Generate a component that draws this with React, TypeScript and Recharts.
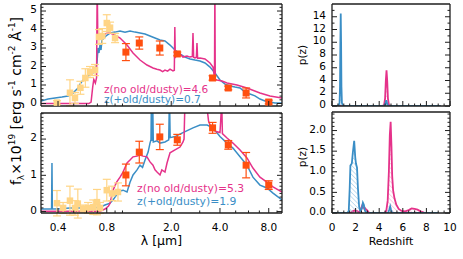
import React from 'react';
import { ComposedChart, Line, Area, Scatter, XAxis, YAxis, ErrorBar, Label } from 'recharts';

const W = 463;
const H = 259;
const FONT = '"DejaVu Sans", Verdana, sans-serif';
const BLUE = '#3a8ec6';
const PINK = '#e5328a';
const ORANGE = '#ff4f0f';
const LIGHT = '#ffd586';
const FRAME = '#1e1e1e';
const TICK_FS = 10.5;

// ---------- SED axis ----------
const lamDomain: [number, number] = [0.314, 9.66];
const lamTicks = [0.4, 0.5, 0.6, 0.7, 0.8, 0.9, 1, 2, 3, 4, 5, 6, 7, 8, 9];
const lamMajor = [0.4, 0.8, 2.0, 4.0, 8.0];

// ---------- SED top (no old/dusty z=4.6 ; +old/dusty z=0.7) ----------
const sedTopBlue: [number, number][] = [
  [0.314, 0.14], [0.347, 0.24], [0.383, 0.3], [0.423, 0.35], [0.461, 0.41], [0.488, 0.51], [0.509, 0.68],
  [0.532, 0.84], [0.547, 1.05], [0.571, 1.27], [0.596, 1.43], [0.622, 1.54], [0.649, 1.59], [0.677, 1.81],
  [0.696, 2.19], [0.706, 3.0], [0.716, 2.73], [0.726, 3.16], [0.737, 2.89], [0.747, 3.43], [0.769, 3.54],
  [0.791, 3.65], [0.838, 3.81], [0.899, 3.86], [0.966, 3.92], [1.037, 3.86], [1.113, 3.92], [1.195, 3.86],
  [1.283, 3.81], [1.378, 3.76], [1.479, 3.65], [1.588, 3.54], [1.705, 3.43], [1.83, 3.38], [1.966, 3.16],
  [2.11, 2.89], [2.266, 2.68], [2.432, 2.51], [2.612, 2.41], [2.804, 2.35], [3.01, 2.3], [3.232, 2.19],
  [3.471, 1.97], [3.726, 1.65], [4.0, 1.27], [4.297, 1.05], [4.613, 0.95], [4.952, 0.89], [5.316, 0.84],
  [5.707, 0.62], [6.127, 0.51], [6.577, 0.41], [7.063, 0.24], [7.585, 0.14], [8.14, 0.08], [8.74, 0.03], [9.66, 0.03],
];
const sedTopPink: [number, number][] = [
  [0.314, 0.0], [0.62, 0.0], [0.64, 0.08], [0.655, 0.9], [0.665, 1.3], [0.68, 1.1], [0.692, 1.4], [0.698, 6.5],
  [0.704, 3.6], [0.72, 3.75], [0.75, 3.7], [0.8, 3.8], [0.838, 3.81], [0.9, 3.7], [0.966, 3.54], [1.067, 3.16],
  [1.162, 2.73], [1.283, 2.35], [1.417, 2.08], [1.543, 1.92], [1.63, 1.85], [1.705, 1.81], [1.77, 1.72],
  [1.83, 1.81], [1.9, 1.75], [1.966, 1.86], [2.05, 1.76], [2.09, 1.8], [2.105, 4.14], [2.12, 2.5], [2.171, 2.62],
  [2.266, 2.68], [2.364, 2.51], [2.502, 2.57], [2.612, 2.51], [2.7, 2.55], [2.725, 3.81], [2.75, 2.5],
  [2.804, 2.46], [2.86, 2.5], [2.884, 3.27], [2.91, 2.45], [3.01, 2.46], [3.232, 2.41], [3.471, 2.19],
  [3.622, 1.97], [3.7, 1.4], [3.72, 6.5], [3.74, 1.3], [3.833, 1.27], [4.116, 1.22], [4.421, 1.11],
  [5.093, 1.0], [5.871, 0.84], [7.063, 0.57], [8.14, 0.41], [9.66, 0.3],
];
const photTopIR: [number, number, number][] = [
  [1.05, 2.78, 0.46], [1.27, 3.27, 0.33], [1.7, 3.0, 0.38], [2.18, 2.68, 0.1],
  [3.6, 1.38, 0.12], [4.5, 0.84, 0.1], [5.8, 0.57, 0.27], [8.0, 0.08, 0.1],
];
const photTopOpt: [number, number, number][] = [
  [0.394, 0.05, 0.1], [0.474, 0.58, 0.7], [0.509, 0.3, 0.3], [0.55, 0.85, 0.35], [0.59, 1.38, 0.5],
  [0.63, 1.7, 0.3], [0.677, 1.81, 0.3], [0.716, 3.6, 0.4], [0.75, 3.65, 0.4], [0.8, 4.35, 0.45],
  [0.838, 4.1, 0.3], [0.9, 3.54, 0.25],
];

// ---------- SED bottom (no old/dusty z=5.3 ; +old/dusty z=1.9) ----------
const sedBotBlue: [number, number][] = [
  [0.314, 0.07], [0.36, 0.07], [0.365, 0.07], [0.367, 1.34], [0.369, 0.07], [0.412, 0.08], [0.474, 0.1],
  [0.547, 0.1], [0.63, 0.1], [0.726, 0.12], [0.78, 0.18], [0.838, 0.23], [0.874, 0.32], [0.92, 0.46],
  [0.966, 0.57], [1.008, 0.59], [1.067, 0.54], [1.113, 0.81], [1.162, 1.01], [1.23, 1.15], [1.283, 1.28],
  [1.33, 1.22], [1.378, 1.42], [1.44, 1.64], [1.479, 1.89], [1.5, 1.98], [1.51, 3.2], [1.52, 1.95],
  [1.535, 3.2], [1.55, 1.92], [1.634, 1.95], [1.705, 1.89], [1.83, 1.92], [1.93, 1.98], [1.95, 3.2],
  [1.97, 2.04], [2.11, 2.07], [2.364, 2.18], [2.725, 2.31], [3.01, 2.39], [3.33, 2.39], [3.62, 2.31],
  [4.0, 2.07], [4.42, 1.89], [4.81, 1.75], [5.32, 1.51], [5.87, 1.28], [6.39, 0.95], [7.06, 0.73],
  [7.8, 0.65], [8.5, 0.51], [9.66, 0.32],
];
const sedBotPink: [number, number][] = [
  [0.314, 0.01], [0.726, 0.01], [0.78, 0.07], [0.82, 0.15], [0.838, 0.23], [0.874, 0.59], [0.92, 0.81],
  [0.966, 0.95], [1.008, 1.09], [1.067, 1.34], [1.113, 1.42], [1.162, 1.51], [1.23, 1.53], [1.283, 1.56],
  [1.34, 1.53], [1.417, 1.51], [1.479, 1.37], [1.543, 1.28], [1.588, 1.15], [1.634, 1.09], [1.705, 1.01],
  [1.75, 1.15], [1.83, 1.09], [1.884, 1.34], [1.966, 1.62], [2.11, 1.7], [2.266, 1.78], [2.364, 1.92],
  [2.4, 2.0], [2.43, 3.0], [2.6, 3.0], [3.0, 3.1], [3.3, 3.0], [3.4, 2.5], [3.47, 2.39], [3.62, 2.25],
  [3.83, 2.2], [4.0, 2.18], [4.1, 3.0], [4.14, 2.15], [4.42, 2.03], [4.81, 1.89], [5.32, 1.7], [5.87, 1.48],
  [6.39, 1.2], [7.06, 0.95], [7.8, 0.81], [8.5, 0.68], [9.66, 0.54],
];
const photBotIR: [number, number, number][] = [
  [1.05, 1.01, 0.3], [1.27, 1.64, 0.3], [1.7, 2.06, 0.35], [2.18, 1.98, 0.15],
  [3.6, 2.31, 0.15], [4.5, 1.84, 0.12], [5.8, 1.28, 0.35], [8.0, 0.73, 0.12],
];
const photBotOpt: [number, number, number][] = [
  [0.394, 0.23, 0.35], [0.43, 0.1, 0.15], [0.474, 0.3, 0.4], [0.509, 0.1, 0.2], [0.53, 0.22, 0.4],
  [0.571, 0.08, 0.1], [0.613, 0.1, 0.15], [0.66, 0.12, 0.2], [0.696, 0.26, 0.35], [0.726, 0.1, 0.15],
  [0.8, 0.59, 0.3], [0.862, 0.5, 0.2], [0.938, 0.54, 0.25],
];

// ---------- redshift labels ----------
const zNoOld = [4.6, 5.3];
const zOld = [0.7, 1.9];

// ---------- p(z) ----------
const pzTopBlue: [number, number][] = [
  [0, 0], [0.55, 0], [0.64, 0.5], [0.68, 3], [0.71, 10], [0.74, 14.5], [0.77, 10], [0.8, 3], [0.84, 0.5],
  [0.93, 0], [4.4, 0], [4.52, 0.3], [4.6, 0.9], [4.68, 0.3], [4.8, 0], [9.2, 0],
];
const pzTopPink: [number, number][] = [
  [0, 0], [4.3, 0], [4.42, 0.2], [4.5, 1.2], [4.56, 3.9], [4.62, 5.6], [4.68, 3.9], [4.74, 1.2], [4.82, 0.2],
  [4.95, 0], [9.2, 0],
];
const pzBotBlue: [number, number][] = [
  [0, 0], [1.3, 0], [1.42, 0.05], [1.5, 0.6], [1.56, 1.15], [1.68, 1.2], [1.76, 1.45], [1.88, 1.75],
  [1.97, 1.35], [2.03, 1.2], [2.12, 1.1], [2.2, 0.6], [2.3, 0.15], [2.4, 0.05], [2.52, 0.1], [2.62, 0.25],
  [2.7, 0.2], [2.8, 0.05], [2.95, 0], [4.75, 0], [4.85, 0.08], [4.93, 0.16], [5.0, 0.08], [5.1, 0], [9.0, 0],
];
const pzBotPink: [number, number][] = [
  [0, 0], [1.6, 0], [1.75, 0.04], [1.9, 0.06], [2.1, 0.05], [2.3, 0.02], [2.45, 0.1], [2.57, 0.19],
  [2.65, 0.12], [2.75, 0.13], [2.85, 0.1], [3.0, 0.06], [3.15, 0], [4.45, 0], [4.6, 0.05], [4.72, 0.3],
  [4.82, 1.0], [4.9, 1.9], [4.97, 2.21], [5.04, 1.6], [5.1, 0.9], [5.18, 0.55], [5.3, 0.35], [5.45, 0.2],
  [5.65, 0.1], [5.9, 0.05], [6.2, 0.04], [6.5, 0.07], [6.75, 0.11], [7.0, 0.1], [7.25, 0.08], [7.5, 0.04],
  [7.8, 0.01], [8.0, 0], [9.0, 0],
];

// ---------- helpers ----------
const range = (a: number, b: number, s: number) => {
  const out: number[] = [];
  for (let v = a; v <= b + 1e-9; v += s) out.push(Math.round(v * 1000) / 1000);
  return out;
};
const linePts = (arr: [number, number][]) => arr.map(([lam, f]) => ({ lam, f }));
const photPts = (arr: [number, number, number][]) => arr.map(([lam, f, err]) => ({ lam, f, err }));
const pzPts = (arr: [number, number][]) => arr.map(([z, p]) => ({ z, p }));
const fmt1 = (v: number) => v.toFixed(1);
const fmt0 = (v: number) => String(Math.round(v));

type Side = 'left' | 'right' | 'top' | 'bottom';
const makeTick = (side: Side, majors: number[], fmt: ((v: number) => string) | null, gap = 4) => (p: any) => {
  const v = Number(p.payload?.value);
  const isMajor = majors.some((m) => Math.abs(m - v) < 1e-6);
  const len = isMajor ? 5 : 2.5;
  const x = Number(p.x);
  const y = Number(p.y);
  const dx = side === 'left' ? len : side === 'right' ? -len : 0;
  const dy = side === 'top' ? len : side === 'bottom' ? -len : 0;
  let label: React.ReactNode = null;
  if (fmt && isMajor) {
    if (side === 'bottom') {
      label = (
        <text x={x} y={y + 17.5} textAnchor="middle" fontSize={TICK_FS} fontFamily={FONT} fill="#000">
          {fmt(v)}
        </text>
      );
    } else if (side === 'left') {
      label = (
        <text x={x - gap} y={y + 2.2} textAnchor="end" fontSize={TICK_FS} fontFamily={FONT} fill="#000">
          {fmt(v)}
        </text>
      );
    }
  }
  return (
    <g>
      <line x1={x} y1={y} x2={x + dx} y2={y + dy} stroke={FRAME} strokeWidth={1} />
      {label}
    </g>
  );
};

const AX = { stroke: FRAME, strokeWidth: 1.3 };

const leftTitle = (p: any) => {
  const vb = p.viewBox || { x: 41, y: 113, width: 0, height: 100 };
  const cx = vb.x + (vb.width || 0) - 20.5;
  const cy = vb.y - 12;
  const sup = 9;
  return (
    <text x={cx} y={cy} transform={`rotate(-90 ${cx} ${cy})`} textAnchor="middle" fontSize={14} fontFamily={FONT} fill="#000">
      f<tspan dy={3} fontSize={sup}>λ</tspan>
      <tspan dy={-3}>×10</tspan>
      <tspan dy={-5.5} fontSize={sup}>19</tspan>
      <tspan dy={5.5}> [erg s</tspan>
      <tspan dy={-5.5} fontSize={sup}>-1</tspan>
      <tspan dy={5.5}> cm</tspan>
      <tspan dy={-5.5} fontSize={sup}>-2</tspan>
      <tspan dy={5.5}> Å</tspan>
      <tspan dy={-5.5} fontSize={sup}>-1</tspan>
      <tspan dy={5.5}>]</tspan>
    </text>
  );
};
const bottomTitle = (text: string, size: number) => (p: any) => {
  const vb = p.viewBox;
  const cx = vb.x + vb.width / 2;
  const y = vb.y + 32;
  return (
    <text x={cx} y={y} textAnchor="middle" fontSize={size} fontFamily={FONT} fill="#000">
      {text}
    </text>
  );
};
const pzTitle = (shift: number) => (p: any) => {
  const vb = p.viewBox;
  const cx = vb.x + (vb.width || 0) - 26;
  const cy = vb.y + vb.height / 2 + shift;
  return (
    <text x={cx} y={cy} transform={`rotate(-90 ${cx} ${cy})`} textAnchor="middle" fontSize={10.5} fontFamily={FONT} fill="#000">
      p(z)
    </text>
  );
};

const sedAxes = (
  yDomain: [number, number],
  yTicks: number[],
  yMajor: number[],
  showX: boolean,
  withTitle: boolean,
) => [
  <XAxis key="xb" xAxisId="b" orientation="bottom" dataKey="lam" type="number" scale="log" domain={lamDomain}
    allowDataOverflow ticks={lamTicks} interval={0} height={1} tickSize={0} tickMargin={0} tickLine={false}
    axisLine={AX} tick={makeTick('bottom', lamMajor, showX ? fmt1 : null)}>
    {showX ? <Label content={bottomTitle('λ [μm]', 12.5)} /> : null}
  </XAxis>,
  <XAxis key="xt" xAxisId="t" orientation="top" type="number" scale="log" domain={lamDomain}
    allowDataOverflow ticks={lamTicks} interval={0} height={1} tickSize={0} tickMargin={0} tickLine={false}
    axisLine={AX} tick={makeTick('top', lamMajor, null)} />,
  <YAxis key="yl" yAxisId="l" orientation="left" dataKey="f" type="number" domain={yDomain} allowDataOverflow
    ticks={yTicks} interval={0} width={1} tickSize={0} tickMargin={0} tickLine={false} axisLine={AX}
    tick={makeTick('left', yMajor, fmt0, 4)}>
    {withTitle ? <Label content={leftTitle} /> : null}
  </YAxis>,
  <YAxis key="yr" yAxisId="r" orientation="right" type="number" domain={yDomain} allowDataOverflow
    ticks={yTicks} interval={0} width={1} tickSize={0} tickMargin={0} tickLine={false} axisLine={AX}
    tick={makeTick('right', yMajor, null)} />,
];

const pzXTicks = range(0, 10, 0.5);
const pzXMajor = [0, 2, 4, 6, 8, 10];

const pzAxes = (
  yDomain: [number, number],
  yTicks: number[],
  yMajor: number[],
  yFmt: (v: number) => string,
  showX: boolean,
  titleShift: number,
) => [
  <XAxis key="xb" xAxisId="b" orientation="bottom" dataKey="z" type="number" domain={[0, 10]} allowDataOverflow
    ticks={pzXTicks} interval={0} height={1} tickSize={0} tickMargin={0} tickLine={false} axisLine={AX}
    tick={makeTick('bottom', pzXMajor, showX ? fmt0 : null)}>
    {showX ? <Label content={bottomTitle('Redshift', 11)} /> : null}
  </XAxis>,
  <XAxis key="xt" xAxisId="t" orientation="top" type="number" domain={[0, 10]} allowDataOverflow
    ticks={pzXTicks} interval={0} height={1} tickSize={0} tickMargin={0} tickLine={false} axisLine={AX}
    tick={makeTick('top', pzXMajor, null)} />,
  <YAxis key="yl" yAxisId="l" orientation="left" dataKey="p" type="number" domain={yDomain} allowDataOverflow
    ticks={yTicks} interval={0} width={1} tickSize={0} tickMargin={0} tickLine={false} axisLine={AX}
    tick={makeTick('left', yMajor, yFmt, 6)}>
    <Label content={pzTitle(titleShift)} />
  </YAxis>,
  <YAxis key="yr" yAxisId="r" orientation="right" type="number" domain={yDomain} allowDataOverflow
    ticks={yTicks} interval={0} width={1} tickSize={0} tickMargin={0} tickLine={false} axisLine={AX}
    tick={makeTick('right', yMajor, null)} />,
];

const square = (size: number, color: string) => (p: any) => (
  <rect x={p.cx - size / 2} y={p.cy - size / 2} width={size} height={size} fill={color} />
);

const hatch = (id: string, color: string) => (
  <pattern id={id} patternUnits="userSpaceOnUse" width={3.2} height={3.2} patternTransform="rotate(-45)">
    <line x1={0} y1={0} x2={0} y2={3.2} stroke={color} strokeWidth={1} />
  </pattern>
);

const SedPanel = ({
  top, bottom, blue, pink, ir, opt, yDomain, yTicks, yMajor, showX, withTitle, idx, legX, legY, legFs,
}: any) => (
  <ComposedChart width={W} height={H} margin={{ top: top - 1, right: 180, bottom: bottom - 1, left: 40 }}>
    {sedAxes(yDomain, yTicks, yMajor, showX, withTitle)}
    <Line xAxisId="b" yAxisId="l" data={linePts(blue)} dataKey="f" stroke={BLUE} strokeWidth={1.5} dot={false}
      activeDot={false} isAnimationActive={false} />
    <Line xAxisId="b" yAxisId="l" data={linePts(pink)} dataKey="f" stroke={PINK} strokeWidth={1.5} dot={false}
      activeDot={false} isAnimationActive={false} />
    <Scatter xAxisId="b" yAxisId="l" data={photPts(opt)} dataKey="f" fill={LIGHT} shape={square(6.5, LIGHT)}
      isAnimationActive={false}>
      <ErrorBar dataKey="err" direction="y" width={4} stroke={LIGHT} strokeWidth={1.2} />
    </Scatter>
    <Scatter xAxisId="b" yAxisId="l" data={photPts(ir)} dataKey="f" fill={ORANGE} shape={square(7, ORANGE)}
      isAnimationActive={false}>
      <ErrorBar dataKey="err" direction="y" width={4} stroke={ORANGE} strokeWidth={1.2} />
    </Scatter>
    <text x={legX} y={legY[0]} fill={PINK} fontSize={legFs} fontFamily={FONT}>
      {`z(no old/dusty)=${zNoOld[idx].toFixed(1)}`}
    </text>
    <text x={legX} y={legY[1]} fill={BLUE} fontSize={legFs} fontFamily={FONT}>
      {`z(+old/dusty)=${zOld[idx].toFixed(1)}`}
    </text>
  </ComposedChart>
);

const PzPanel = ({ top, bottom, blue, pink, yDomain, yTicks, yMajor, yFmt, showX, titleShift, id }: any) => (
  <ComposedChart width={W} height={H} margin={{ top: top - 1, right: 12, bottom: bottom - 1, left: 331 }}>
    <defs>
      {hatch(`hb${id}`, '#8fc2e4')}
      {hatch(`hp${id}`, '#f4a3ca')}
    </defs>
    {pzAxes(yDomain, yTicks, yMajor, yFmt, showX, titleShift)}
    <Area xAxisId="b" yAxisId="l" data={pzPts(pink)} dataKey="p" type="linear" stroke={PINK} strokeWidth={1.8}
      fill={`url(#hp${id})`} fillOpacity={1} dot={false} activeDot={false} isAnimationActive={false} />
    <Area xAxisId="b" yAxisId="l" data={pzPts(blue)} dataKey="p" type="linear" stroke={BLUE} strokeWidth={1.8}
      fill={`url(#hb${id})`} fillOpacity={1} dot={false} activeDot={false} isAnimationActive={false} />
  </ComposedChart>
);

const layer: React.CSSProperties = { position: 'absolute', left: 0, top: 0 };

export default function App() {
  return (
    <div style={{ position: 'absolute', left: 0, top: 0, width: W, height: H, background: '#fff', overflow: 'hidden' }}>
      <div style={layer}>
        <SedPanel top={4} bottom={153} blue={sedTopBlue} pink={sedTopPink} ir={photTopIR} opt={photTopOpt}
          yDomain={[-0.135, 5.38]} yTicks={range(0, 5.2, 0.2)} yMajor={[0, 1, 2, 3, 4, 5]} showX={false}
          withTitle={false} idx={0} legX={104} legY={[92.5, 103]} legFs={10.5} />
      </div>
      <div style={layer}>
        <SedPanel top={113} bottom={46} blue={sedBotBlue} pink={sedBotPink} ir={photBotIR} opt={photBotOpt}
          yDomain={[-0.04, 2.72]} yTicks={range(0, 2.7, 0.1)} yMajor={[0, 1, 2]} showX withTitle idx={1}
          legX={137} legY={[192, 204.5]} legFs={10.8} />
      </div>
      <div style={layer}>
        <PzPanel top={4} bottom={153} blue={pzTopBlue} pink={pzTopPink} yDomain={[0, 16]} yTicks={range(0, 15, 1)}
          yMajor={[0, 2, 4, 6, 8, 10, 12, 14]} yFmt={fmt0} showX={false} titleShift={0} id="T" />
      </div>
      <div style={layer}>
        <PzPanel top={112} bottom={46} blue={pzBotBlue} pink={pzBotPink} yDomain={[0, 2.45]}
          yTicks={range(0, 2.4, 0.1)} yMajor={[0, 0.5, 1, 1.5, 2]} yFmt={fmt1} showX titleShift={-5.5} id="B" />
      </div>
    </div>
  );
}
